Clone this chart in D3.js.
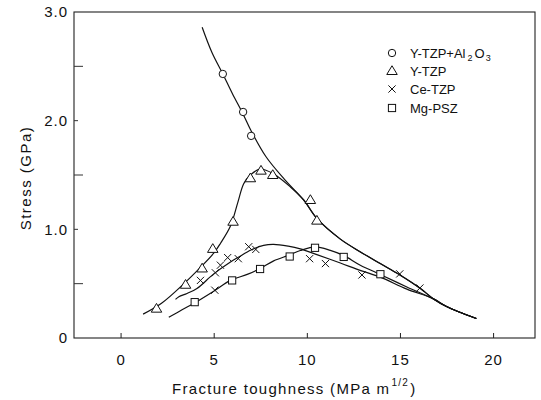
<!DOCTYPE html>
<html><head><meta charset="utf-8">
<script src="https://cdn.jsdelivr.net/npm/d3@7/dist/d3.min.js"></script>
<style>body{margin:0;background:#fff}text{font-family:"Liberation Sans",Arial,sans-serif;fill:#111}</style>
</head><body><svg id="c" width="541" height="400"></svg>
<script>
// ---- data ----
const xTickValues = [0, 5, 10, 15, 20];
const xTickLabels = ["0", "5", "10", "15", "20"];
const yTickValues = [0, 1, 2, 3];
const yTickLabels = ["0", "1.0", "2.0", "3.0"];
const seriesNames = ["Y-TZP+Al2O3", "Y-TZP", "Ce-TZP", "Mg-PSZ"];

// measured points
const alX = [5.49, 6.58, 7.01];
const alY = [2.43, 2.08, 1.86];
const yX = [1.93, 3.49, 4.38, 4.95, 6.04, 6.97, 7.54, 8.17, 10.19, 10.54];
const yY = [0.27, 0.49, 0.64, 0.82, 1.07, 1.47, 1.54, 1.50, 1.27, 1.08];
const ceX = [4.29, 5.06, 5.09, 5.36, 5.75, 6.32, 6.88, 7.26, 10.15, 11.0, 12.96, 14.99, 16.07];
const ceY = [0.53, 0.44, 0.60, 0.67, 0.74, 0.73, 0.84, 0.815, 0.73, 0.685, 0.58, 0.59, 0.46];
const mgX = [3.98, 5.99, 7.49, 9.08, 10.44, 11.98, 13.95];
const mgY = [0.33, 0.53, 0.635, 0.75, 0.83, 0.746, 0.587];

// fitted curves
const alCurveX = [4.38, 4.9, 5.49, 6.0, 6.58, 7.0, 7.8, 8.8, 9.83, 10.54, 11.8, 12.9, 13.94, 15.0, 16.1, 16.8, 17.5, 19.1];
const alCurveY = [2.86, 2.63, 2.43, 2.25, 2.06, 1.91, 1.67, 1.46, 1.27, 1.10, 0.91, 0.79, 0.685, 0.58, 0.455, 0.36, 0.29, 0.18];
const yCurveX = [1.21, 2.2, 3.4, 4.29, 5.0, 5.36, 5.9, 6.3, 6.61, 6.97, 7.5, 8.22, 9.12, 9.83, 10.54, 11.8, 12.9, 13.94, 15.0, 16.1, 16.8, 17.5, 19.1];
const yCurveY = [0.22, 0.32, 0.50, 0.65, 0.78, 0.87, 1.03, 1.25, 1.42, 1.50, 1.555, 1.51, 1.39, 1.27, 1.10, 0.91, 0.79, 0.685, 0.58, 0.455, 0.36, 0.29, 0.18];
const ceCurveX = [2.95, 3.13, 3.57, 4.1, 5.0, 5.9, 6.35, 7.0, 7.68, 8.22, 9.0, 9.65, 10.5, 11.8, 12.9, 13.94, 15.37, 16.8, 17.5, 19.1];
const ceCurveY = [0.355, 0.38, 0.41, 0.455, 0.59, 0.70, 0.746, 0.81, 0.853, 0.862, 0.845, 0.82, 0.77, 0.69, 0.62, 0.56, 0.45, 0.36, 0.29, 0.18];
const mgCurveX = [2.59, 3.3, 4.0, 5.0, 5.9, 6.8, 7.5, 8.22, 9.08, 9.65, 10.46, 11.26, 11.97, 12.87, 13.94, 15.37, 16.8, 17.5, 19.1];
const mgCurveY = [0.19, 0.26, 0.325, 0.43, 0.53, 0.585, 0.64, 0.71, 0.765, 0.805, 0.838, 0.807, 0.76, 0.67, 0.585, 0.47, 0.36, 0.29, 0.18];

// ---- drawing ----
const svg = d3.select("#c");
const L = 74, R = 535, T = 12, B = 338;
const x = d3.scaleLinear().domain([-2.5, 22.25]).range([L, R]);
const y = d3.scaleLinear().domain([0, 3]).range([B, T]);

svg.append("rect").attr("x", L).attr("y", T).attr("width", R - L).attr("height", B - T)
  .attr("fill", "none").attr("stroke", "#222").attr("stroke-width", 1.1);

// x axis
const xAxis = d3.axisBottom(x).tickValues(xTickValues).tickFormat((d, i) => xTickLabels[i])
  .tickSizeInner(-5).tickSizeOuter(0).tickPadding(16);
const gx = svg.append("g").attr("transform", `translate(0,${B})`).call(xAxis);
gx.select(".domain").remove();
gx.selectAll("line").attr("stroke", "#222");
gx.selectAll("text").attr("font-size", 15).style("letter-spacing", "1px")
  .attr("font-family", "Liberation Sans, Arial, sans-serif").attr("fill", "#111");

// y axis
const yAxis = d3.axisLeft(y).tickValues(yTickValues).tickFormat((d, i) => yTickLabels[i])
  .tickSize(0).tickPadding(6);
const gy = svg.append("g").attr("transform", `translate(${L},0)`).call(yAxis);
gy.select(".domain").remove();
gy.selectAll("text").attr("font-size", 15).style("letter-spacing", "1px")
  .attr("font-family", "Liberation Sans, Arial, sans-serif").attr("fill", "#111");
const yMinor = d3.range(0.5, 3, 0.5);
svg.append("g").selectAll("line").data(yMinor).join("line")
  .attr("x1", L).attr("x2", d => L + (d % 1 === 0 ? 4 : 9))
  .attr("y1", d => y(d)).attr("y2", d => y(d)).attr("stroke", "#333");

// axis titles
svg.append("text").attr("transform", `translate(31,178) rotate(-90)`).attr("text-anchor", "middle")
  .attr("font-size", 15).style("letter-spacing", "1.5px").text("Stress (GPa)");
const xt = svg.append("text").attr("x", 172).attr("y", 394).attr("font-size", 15).style("letter-spacing", "1.3px");
xt.append("tspan").text("Fracture toughness (MPa m");
xt.append("tspan").attr("font-size", 10).attr("dy", -8).attr("dx", 1).text("1/2");
xt.append("tspan").attr("dy", 8).attr("dx", 1).text(")");

// curves
const line = d3.line().x(d => x(d[0])).y(d => y(d[1])).curve(d3.curveCatmullRom.alpha(0.5));
const curves = [[alCurveX, alCurveY], [yCurveX, yCurveY], [ceCurveX, ceCurveY], [mgCurveX, mgCurveY]];
curves.forEach(([cx, cy]) => {
  svg.append("path").attr("d", line(d3.zip(cx, cy))).attr("fill", "none")
    .attr("stroke", "#111").attr("stroke-width", 1.2);
});

// markers
function drawMarker(g, type, px, py) {
  if (type === 0) {
    g.append("circle").attr("cx", px).attr("cy", py).attr("r", 3.7).attr("fill", "#fff").attr("stroke", "#111").attr("stroke-width", 1);
  } else if (type === 1) {
    const s = 5;
    g.append("path").attr("d", `M${px},${py - s * 1.05}L${px + s * 1.05},${py + s * 0.7}L${px - s * 1.05},${py + s * 0.7}Z`)
      .attr("fill", "#fff").attr("stroke", "#111").attr("stroke-width", 1);
  } else if (type === 2) {
    const s = 3.6;
    g.append("path").attr("d", `M${px - s},${py - s}L${px + s},${py + s}M${px + s},${py - s}L${px - s},${py + s}`)
      .attr("stroke", "#111").attr("stroke-width", 1);
  } else {
    const s = 3.6;
    g.append("rect").attr("x", px - s).attr("y", py - s).attr("width", 2 * s).attr("height", 2 * s)
      .attr("fill", "#fff").attr("stroke", "#111").attr("stroke-width", 1);
  }
}
const pts = [[alX, alY], [yX, yY], [ceX, ceY], [mgX, mgY]];
const mg = svg.append("g");
pts.forEach(([px, py], t) => px.forEach((v, i) => drawMarker(mg, t, x(v), y(py[i]))));

// legend
const lg = svg.append("g");
const rows = [53, 71, 89, 108];
seriesNames.forEach((n, i) => {
  drawMarker(lg, i, 392, rows[i]);
  const t = lg.append("text").attr("x", 410).attr("y", rows[i] + 5).attr("font-size", 13);
  if (i === 0) {
    t.append("tspan").text("Y-TZP+Al");
    t.append("tspan").attr("font-size", 9).attr("dy", 3).attr("dx", 2).text("2");
    t.append("tspan").attr("dy", -3).attr("dx", 2).text("O");
    t.append("tspan").attr("font-size", 9).attr("dy", 3).attr("dx", 1).text("3");
  } else {
    t.text(n);
  }
});
</script></body></html>
